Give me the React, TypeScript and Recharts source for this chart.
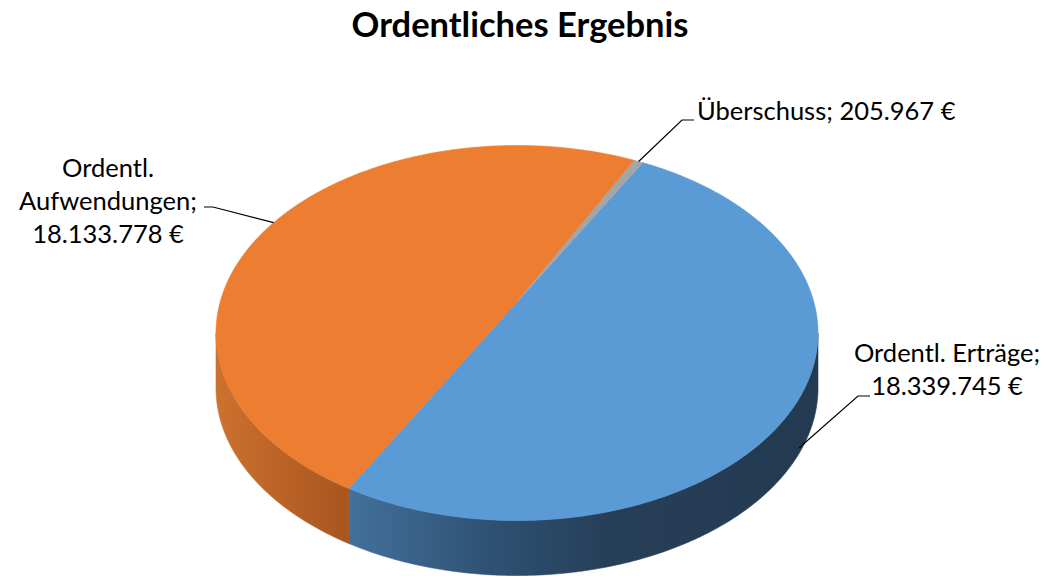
import React from "react";
import { PieChart, Pie, Cell } from "recharts";

// values as printed in the chart
const categories = ["Ordentl. Erträge", "Ordentl. Aufwendungen", "Überschuss"];
const amounts = [18339745, 18133778, 205967];
const sliceColors = ["#5B9BD5", "#ED7D31", "#A5A5A5"];

const data = categories.map((name, i) => ({ name, value: amounts[i] }));

const W = 1050;
const H = 576;
const CX = 517;
const CY = 333;
const R = 301;
const SQUASH = 0.623; // ry / rx of the top face
const TILT = 0.165; // perspective shift of the centre
const DEPTH = 55;
const START = 61;

const FONT = "Lato, 'Noto Sans', sans-serif";

const WALL_STOPS: Record<string, Array<[number, string]>> = {
  "#5B9BD5": [
    [0.2, "#44739f"],
    [0.45, "#2f5274"],
    [0.65, "#263f58"],
    [1, "#233a50"],
  ],
  "#ED7D31": [
    [0, "#cc7230"],
    [0.22, "#a8551f"],
  ],
  "#A5A5A5": [
    [0, "#8a8a8a"],
    [1, "#5a5a5a"],
  ],
};

// label placement, same order as categories
const LABEL_LAYOUT = [
  { x: 947, anchor: "middle", baselines: [362, 395], wrap: "two", tick: [[870, 396], [858, 396]], wall: 0.9 },
  { x: 108, anchor: "middle", baselines: [177, 210, 243], wrap: "words", tick: [[204, 207], [213, 207]], wall: 0 },
  { x: 697, anchor: "start", baselines: [120], wrap: "one", tick: [[694, 120], [682, 120]], wall: 0 },
];

const fmt = (n: number) => String(n).replace(/\B(?=(\d{3})+(?!\d))/g, ".");

function project(cx: number, cy: number, r: number, deg: number) {
  const a = (deg * Math.PI) / 180;
  const u = Math.cos(a);
  const v = Math.sin(a);
  const d = 1 + TILT * v;
  const up = (u * Math.sqrt(1 - TILT * TILT)) / d;
  const vp = (v + TILT) / d;
  return { x: cx + r * up, y: cy - r * SQUASH * vp, front: vp < 0 };
}

function Sector3D(props: any) {
  const { cx, cy, outerRadius, startAngle, endAngle, fill, index } = props;
  const n = Math.max(2, Math.ceil(Math.abs(endAngle - startAngle) / 0.5));
  const pts: Array<{ x: number; y: number; front: boolean }> = [];
  for (let i = 0; i <= n; i++) {
    pts.push(project(cx, cy, outerRadius, startAngle + ((endAngle - startAngle) * i) / n));
  }
  const apex = { x: cx, y: cy - outerRadius * SQUASH * TILT };

  const runs: Array<typeof pts> = [];
  let cur: typeof pts = [];
  pts.forEach((p) => {
    if (p.front) cur.push(p);
    else if (cur.length) {
      runs.push(cur);
      cur = [];
    }
  });
  if (cur.length) runs.push(cur);

  const gid = `wall-${index}`;
  const stops = WALL_STOPS[fill] ?? [[0, fill]];
  const top =
    `M${apex.x},${apex.y} ` + pts.map((p) => `L${p.x.toFixed(2)},${p.y.toFixed(2)}`).join(" ") + " Z";

  return (
    <g>
      <defs>
        <linearGradient id={gid} gradientUnits="userSpaceOnUse" x1={cx - outerRadius} x2={cx + outerRadius} y1={0} y2={0}>
          {stops.map(([o, c], i) => (
            <stop key={i} offset={o} stopColor={c} />
          ))}
        </linearGradient>
      </defs>
      {runs
        .filter((r) => r.length > 1)
        .map((r, i) => {
          const d =
            r.map((p, j) => `${j ? "L" : "M"}${p.x.toFixed(2)},${p.y.toFixed(2)}`).join(" ") +
            " " +
            [...r].reverse().map((p) => `L${p.x.toFixed(2)},${(p.y + DEPTH).toFixed(2)}`).join(" ") +
            " Z";
          return <path key={i} d={d} fill={`url(#${gid})`} stroke={`url(#${gid})`} strokeWidth={0.6} />;
        })}
      <path d={top} fill={fill} stroke={fill} strokeWidth={0.6} />
    </g>
  );
}

function renderLabel(props: any) {
  const { cx, cy, outerRadius, midAngle, index, name, value } = props;
  const lay = LABEL_LAYOUT[index];
  if (!lay) return null;
  const valueText = `${fmt(value)} €`;
  let lines: string[];
  if (lay.wrap === "one") lines = [`${name}; ${valueText}`];
  else if (lay.wrap === "two") lines = [`${name};`, valueText];
  else {
    const words = String(name).split(" ");
    words[words.length - 1] += ";";
    lines = [...words, valueText];
  }
  const a = project(cx, cy, outerRadius, midAngle);
  const ay = a.y + DEPTH * lay.wall;
  const pts = [[a.x, ay], lay.tick[1], lay.tick[0]].map((p) => p.join(",")).join(" ");
  return (
    <g key={`lbl-${index}`}>
      <polyline points={pts} fill="none" stroke="#000" strokeWidth={1.2} />
      {lines.map((l, i) => (
        <text
          key={i}
          x={lay.x}
          y={lay.baselines[i]}
          textAnchor={lay.anchor as any}
          fontFamily={FONT}
          fontSize={25.5}
          fill="#000"
        >
          {l}
        </text>
      ))}
    </g>
  );
}

export default function App() {
  return (
    <div style={{ position: "absolute", left: 0, top: 0, width: W, height: H, background: "#fff" }}>
      <svg width={W} height={60} style={{ position: "absolute", left: 0, top: 0 }}>
        <text x={520} y={37} textAnchor="middle" fontFamily={FONT} fontWeight={700} fontSize={34.5} fill="#000">
          Ordentliches Ergebnis
        </text>
      </svg>
      <div style={{ position: "absolute", left: 0, top: 0 }}>
        <PieChart width={W} height={H} margin={{ top: 0, right: 0, bottom: 0, left: 0 }}>
          <Pie
            data={data}
            dataKey="value"
            nameKey="name"
            cx={CX}
            cy={CY}
            outerRadius={R}
            innerRadius={0}
            startAngle={START}
            endAngle={START - 360}
            paddingAngle={0}
            stroke="none"
            shape={Sector3D}
            label={renderLabel}
            labelLine={false}
            isAnimationActive={false}
          >
            {data.map((d, i) => (
              <Cell key={d.name} fill={sliceColors[i]} />
            ))}
          </Pie>
        </PieChart>
      </div>
    </div>
  );
}
